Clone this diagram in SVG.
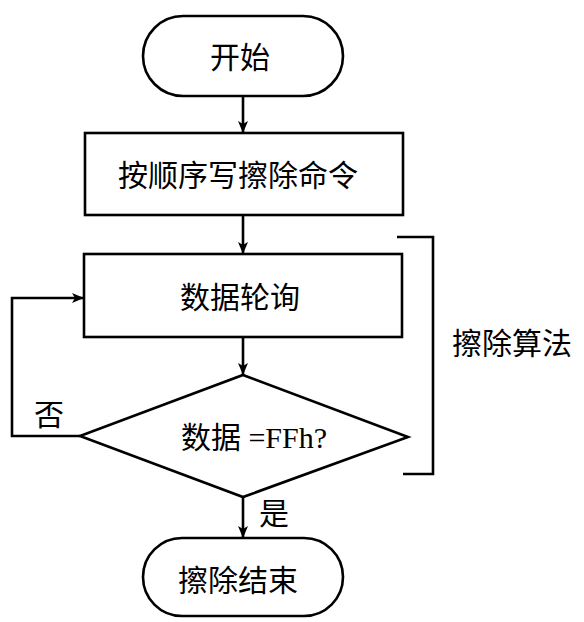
<svg xmlns="http://www.w3.org/2000/svg" width="584" height="622" viewBox="0 0 584 622">
<style>
.s{fill:#fff;stroke:#000;stroke-width:2.6}
.c{fill:none;stroke:#000;stroke-width:2.6}
.t{font-family:"Liberation Serif","Noto Sans CJK SC",serif;font-size:30px;fill:#000;text-anchor:middle;dominant-baseline:central}
</style>
<defs>
<marker id="a" viewBox="0 0 12 10" refX="12" refY="5" markerWidth="12" markerHeight="10" markerUnits="userSpaceOnUse" orient="auto">
<path d="M0,0 L12,5 L0,10 L3,5 Z" fill="#000"/>
</marker>
</defs>
<g id="connectors">
<line class="c" x1="243" y1="96" x2="243" y2="133" marker-end="url(#a)"/>
<line class="c" x1="243" y1="215" x2="243" y2="254" marker-end="url(#a)"/>
<line class="c" x1="243" y1="337" x2="243" y2="375" marker-end="url(#a)"/>
<line class="c" x1="243" y1="497" x2="243" y2="538" marker-end="url(#a)"/>
<polyline class="c" points="80,436 12,436 12,298 84,298" marker-end="url(#a)"/>
<polyline class="c" points="397,237 433,237 433,474 403,474"/>
</g>
<g id="start">
<rect class="s" x="143" y="16" width="200" height="80" rx="40" ry="40"/>
<text class="t" x="240" y="57">开始</text>
</g>
<g id="write">
<rect class="s" x="85" y="133" width="318" height="82"/>
<text class="t" x="238" y="175">按顺序写擦除命令</text>
</g>
<g id="poll">
<rect class="s" x="84" y="254" width="318" height="83"/>
<text class="t" x="240" y="297">数据轮询</text>
</g>
<g id="check">
<polygon class="s" points="243,375 408,437 243,497 80,436"/>
<text class="t" x="254" y="437">数据 =FFh?</text>
</g>
<g id="end">
<rect class="s" x="143" y="538" width="200" height="78" rx="39" ry="39"/>
<text class="t" x="238" y="580">擦除结束</text>
</g>
<g id="labels">
<text class="t" x="49" y="414">否</text>
<text class="t" x="274" y="513">是</text>
<text class="t" x="512" y="343">擦除算法</text>
</g>
</svg>
